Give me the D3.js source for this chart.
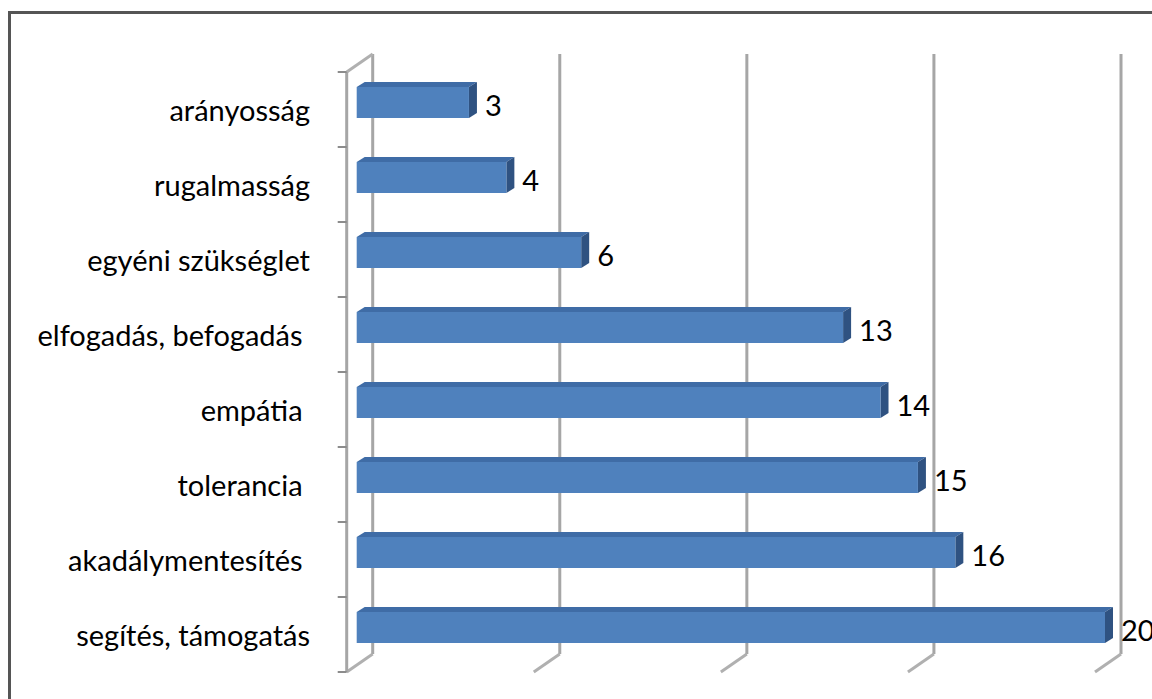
<!DOCTYPE html>
<html>
<head>
<meta charset="utf-8">
<script src="https://cdn.jsdelivr.net/npm/d3@7"></script>
<style>
  body { margin: 0; background: #fff; }
  text { font-family: Lato, "Open Sans", sans-serif; white-space: pre; }
</style>
</head>
<body>
<svg width="1152" height="699"></svg>
<script>
// categories top to bottom, as in the chart (trailing spaces kept)
var categories = ["arányosság", "rugalmasság", "egyéni szükséglet", "elfogadás, befogadás ",
                  "empátia ", "tolerancia ", "akadálymentesítés ", "segítés, támogatás"];
var values = [3, 4, 6, 13, 14, 15, 16, 20];
var ticks = [0, 5, 10, 15, 20];

var svg = d3.select('svg');

// 3d frame constants
var depthX = -26, depthY = 18;     // back wall -> front edge
var barShift = -16;                 // bar front face relative to back wall
var barDx = 8, barDy = -5;          // bar depth

// back wall x scale
var x = d3.scaleLinear().domain([0, 20]).range([372.7, 1121]);
// front category axis
var y = d3.scaleBand().domain(categories).range([72, 672]).padding(0);

var backTop = y.range()[0] - depthY, backBottom = y.range()[1] - depthY;

// outer border
svg.append('rect')
  .attr('x', 9.5).attr('y', 12.5)
  .attr('width', 1300).attr('height', 900)
  .attr('fill', 'none')
  .attr('stroke', '#555')
  .attr('stroke-width', 3);

// gridlines on back wall
svg.selectAll('.grid')
  .data(ticks)
  .enter()
  .append('line')
  .attr('class', 'grid')
  .attr('x1', function(d) { return x(d); })
  .attr('x2', function(d) { return x(d); })
  .attr('y1', backTop)
  .attr('y2', backBottom)
  .attr('stroke', '#a6a6a6')
  .attr('stroke-width', 3);

// floor lines going to the front
svg.selectAll('.floor')
  .data(ticks)
  .enter()
  .append('line')
  .attr('class', 'floor')
  .attr('x1', function(d) { return x(d); })
  .attr('x2', function(d) { return x(d) + depthX; })
  .attr('y1', backBottom)
  .attr('y2', backBottom + depthY)
  .attr('stroke', '#b0b0b0')
  .attr('stroke-width', 3);

// side wall top edge
svg.append('line')
  .attr('x1', x(0)).attr('y1', backTop)
  .attr('x2', x(0) + depthX).attr('y2', backTop + depthY)
  .attr('stroke', '#b0b0b0')
  .attr('stroke-width', 3);

// left axis line + ticks
var axisX = x(0) + depthX;
svg.append('line')
  .attr('x1', axisX).attr('x2', axisX)
  .attr('y1', y.range()[0]).attr('y2', y.range()[1])
  .attr('stroke', '#a6a6a6')
  .attr('stroke-width', 3);

var tickYs = categories.map(function(c) { return y(c); }).concat([y.range()[1]]);
svg.selectAll('.ytick')
  .data(tickYs)
  .enter()
  .append('line')
  .attr('x1', axisX - 9).attr('x2', axisX)
  .attr('y1', function(d) { return d; })
  .attr('y2', function(d) { return d; })
  .attr('stroke', '#8c8c8c')
  .attr('stroke-width', 2);

// bars
var bars = svg.selectAll('.bar')
  .data(categories.map(function(c, i) { return {cat: c, value: values[i]}; }))
  .enter()
  .append('g')
  .attr('class', 'bar');

function fx(v) { return x(v) + barShift; }
function barTop(d) { return y(d.cat) + 15; }
function barBot(d) { return y(d.cat) + 46; }

// top face
bars.append('path')
  .attr('fill', '#3f6ca6')
  .attr('d', function(d) {
    var x0 = fx(0), x1 = fx(d.value), y0 = barTop(d);
    return 'M' + x0 + ',' + y0 + 'L' + (x0 + barDx) + ',' + (y0 + barDy) +
      'L' + (x1 + barDx) + ',' + (y0 + barDy) + 'L' + x1 + ',' + y0 + 'Z';
  });

// side face
bars.append('path')
  .attr('fill', '#2f5281')
  .attr('d', function(d) {
    var x1 = fx(d.value), y0 = barTop(d), y1 = barBot(d);
    return 'M' + x1 + ',' + y0 + 'L' + (x1 + barDx) + ',' + (y0 + barDy) +
      'L' + (x1 + barDx) + ',' + (y1 + barDy) + 'L' + x1 + ',' + y1 + 'Z';
  });

// front face
bars.append('rect')
  .attr('x', fx(0))
  .attr('y', barTop)
  .attr('width', function(d) { return fx(d.value) - fx(0); })
  .attr('height', function(d) { return barBot(d) - barTop(d); })
  .attr('fill', '#4f81bd');

// value labels
bars.append('text')
  .attr('x', function(d) { return fx(d.value) + 16; })
  .attr('y', function(d) { return (barTop(d) + barBot(d)) / 2 + 13; })
  .attr('font-size', 29)
  .attr('fill', '#000')
  .text(function(d) { return d.value; });

// category labels
svg.selectAll('.cat')
  .data(categories)
  .enter()
  .append('text')
  .attr('class', 'cat')
  .attr('x', 310)
  .attr('y', function(d) { return y(d) + y.bandwidth() / 2 + 11; })
  .attr('text-anchor', 'end')
  .attr('font-size', 29)
  .attr('fill', '#000')
  .text(function(d) { return d; });
</script>
</body>
</html>
